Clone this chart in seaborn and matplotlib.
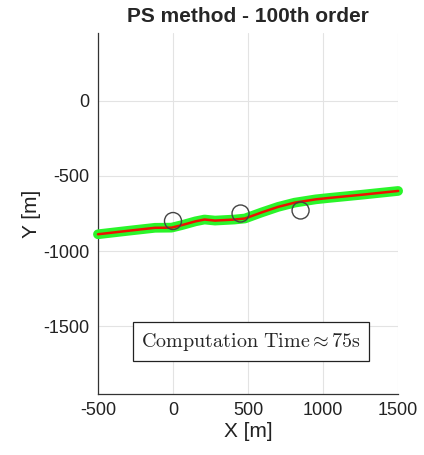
import matplotlib
matplotlib.use("Agg")
import matplotlib.pyplot as plt
import seaborn as sns
import pandas as pd

# Optimised trajectory (pseudospectral solution)
path_x = [-500, -300, -120, -10, 60, 150, 210, 280, 410, 480, 590, 700, 810, 880, 950, 1035, 1260, 1500]
path_y = [-888, -865, -845, -844, -827, -802, -790, -797, -790, -783, -743, -706, -678, -667, -656, -647, -625, -600]

# Waypoints
wp_x = [0, 450, 850]
wp_y = [-800, -750, -730]

x_ticks = [-500, 0, 500, 1000, 1500]
y_ticks = [-1500, -1000, -500, 0]

sns.set_style("whitegrid")
plt.rcParams['font.family'] = ['Liberation Sans', 'DejaVu Sans']
plt.rcParams['mathtext.fontset'] = 'cm'
plt.rcParams['axes.unicode_minus'] = False

path = pd.DataFrame({"x": path_x, "y": path_y})
wps = pd.DataFrame({"x": wp_x, "y": wp_y})

fig = plt.figure(figsize=(4.24, 4.55), dpi=100)
ax = fig.add_axes([0.231, 0.134, 0.708, 0.7935])

sns.lineplot(data=path, x="x", y="y", sort=False, ax=ax, color="#2af52a",
             linewidth=7, solid_capstyle="round", solid_joinstyle="round",
             clip_on=False, zorder=3)
sns.lineplot(data=path, x="x", y="y", sort=False, ax=ax, color="#ee1100",
             linewidth=1.8, solid_capstyle="round", clip_on=False, zorder=4)
sns.scatterplot(data=wps, x="x", y="y", ax=ax, s=150, facecolor="none",
                edgecolor="#444444", linewidth=1.0, zorder=5)

ax.set_xlim(-500, 1500)
ax.set_ylim(-1950, 450)
ax.set_xticks(x_ticks)
ax.set_yticks(y_ticks)
ax.grid(True, color="#e3e3e3", linewidth=0.8)
for side in ["top", "right"]:
    ax.spines[side].set_visible(False)
for side in ["left", "bottom"]:
    ax.spines[side].set_color("#333333")
    ax.spines[side].set_linewidth(0.9)
ax.tick_params(axis="both", direction="in", length=3, width=0.8,
               labelsize=13, colors="#333333", labelcolor="#222222", pad=6)

ax.set_title("PS method - 100th order", fontsize=15, fontweight="bold", pad=8)
ax.set_xlabel("X [m]", fontsize=15, color="#222222", labelpad=2)
ax.set_ylabel("Y [m]", fontsize=15, color="#222222", labelpad=2)

ax.text(520, -1601, r"$\mathrm{Computation\ Time} \approx 75\mathrm{s}$",
        ha="center", va="center", fontsize=14.5, zorder=6,
        bbox=dict(boxstyle="square,pad=0.4", facecolor="white",
                  edgecolor="#222222", linewidth=0.9))

fig.savefig("out.png", dpi=100)
